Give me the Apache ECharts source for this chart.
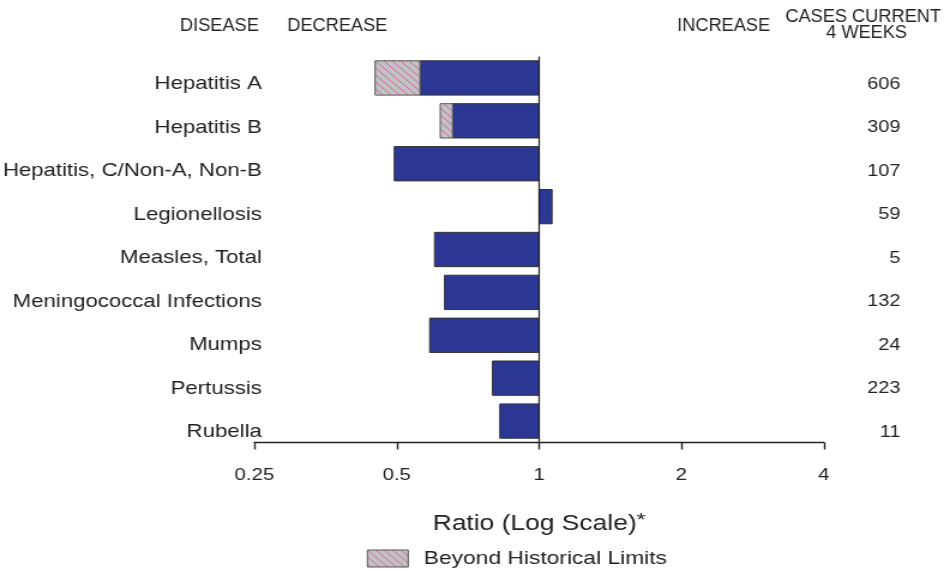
<!DOCTYPE html>
<html>
<head>
<meta charset="utf-8">
<title>Notifiable disease reports: ratio to historical values</title>
<script src="https://cdn.jsdelivr.net/npm/echarts@6/dist/echarts.min.js"></script>
<style>
  html, body { margin: 0; padding: 0; background: #fff; overflow: hidden; }
  /* The figure is drawn on a narrower canvas and widened, giving the extended type look */
  #chart { width: 792px; height: 571px; transform: scaleX(1.19949); transform-origin: 0 0; }
</style>
</head>
<body>
<div id="chart"></div>
<script>
// ---- data ----
const diseases = [
  'Hepatitis A',
  'Hepatitis B',
  'Hepatitis, C/Non-A, Non-B',
  'Legionellosis',
  'Measles, Total',
  'Meningococcal Infections',
  'Mumps',
  'Pertussis',
  'Rubella'
];
// ratio of current 4-week total to historical mean
const ratios = [0.450, 0.618, 0.494, 1.065, 0.601, 0.631, 0.587, 0.797, 0.826];
// historical limit crossed by the ratio (null when within limits)
const historicalLimits = [0.560, 0.656, null, null, null, null, null, null, null];
const casesCurrent4Weeks = [606, 309, 107, 59, 5, 132, 24, 223, 11];
const tickValues = [0.25, 0.5, 1, 2, 4];
const tickLabels = ['0.25', '0.5', '1', '2', '4'];

const BLUE = '#2c3794';
const EDGE = '#333333';
const INK = '#222222';
const FONT = '"Liberation Sans", Arial, Helvetica, sans-serif';

// diagonal hatch used for the portion beyond historical limits
function makeHatch() {
  const s = 7;
  const c = document.createElement('canvas');
  c.width = s; c.height = s;
  const g = c.getContext('2d');
  g.fillStyle = '#c2c2c2';
  g.fillRect(0, 0, s, s);
  g.strokeStyle = '#d456a6';
  g.lineWidth = 0.9;
  g.beginPath();
  g.moveTo(-1, -1); g.lineTo(s + 1, s + 1);
  g.moveTo(-1, s - 1); g.lineTo(1, s + 1);
  g.moveTo(s - 1, -1); g.lineTo(s + 1, 1);
  g.stroke();
  return { image: c, repeat: 'repeat' };
}
const hatch = makeHatch();

// bar from a value to the reference ratio of 1
const mainData = diseases.map((d, i) => [historicalLimits[i] != null ? historicalLimits[i] : ratios[i], i]);
// hatched piece from the ratio to the crossed limit
const beyondData = [];
diseases.forEach((d, i) => {
  if (historicalLimits[i] != null) beyondData.push([ratios[i], historicalLimits[i], i]);
});

function barRect(api, from, to, y) {
  const a = api.coord([from, y]);
  const b = api.coord([to, y]);
  const h = api.size([0, 1], [1, y])[1] * 0.8;
  const x0 = Math.min(a[0], b[0]);
  const x1 = Math.max(a[0], b[0]);
  return { x: x0, y: a[1] - h / 2, width: x1 - x0, height: h };
}

const chart = echarts.init(document.getElementById('chart'), null, { renderer: 'canvas' });

const headerStyle = (text) => ({ text: text, font: '18.5px ' + FONT, fill: INK, textAlign: 'center', textVerticalAlign: 'middle' });

const option = {
  animation: false,
  backgroundColor: '#ffffff',
  textStyle: { fontFamily: FONT, color: INK },
  grid: [
    { left: 212.1, right: 105.25, top: 56.5, bottom: 128.5, outerBoundsMode: 'none', containLabel: false },
    { left: 226.3, right: 49.4, top: 62.45, bottom: 117.25, outerBoundsMode: 'none', containLabel: false }
  ],
  xAxis: [
    {
      type: 'log',
      logBase: 2,
      min: 0.25,
      max: 4,
      gridIndex: 0,
      axisLine: { show: true, onZero: false, lineStyle: { color: INK, width: 1.4 } },
      axisTick: { show: true, length: 7, inside: false, lineStyle: { color: INK, width: 1.4 } },
      splitLine: { show: false },
      minorTick: { show: false },
      axisLabel: {
        fontFamily: FONT, fontSize: 17, color: INK, margin: 24,
        formatter: v => {
          const k = tickValues.findIndex(t => Math.abs(t - v) < 1e-6);
          return k >= 0 ? tickLabels[k] : '';
        }
      },
      name: 'Ratio (Log Scale){sup|*}',
      nameLocation: 'middle',
      nameGap: 69,
      nameTextStyle: {
        fontFamily: FONT, fontSize: 22, color: INK,
        rich: { sup: { fontFamily: FONT, fontSize: 19, color: INK, verticalAlign: 'top', padding: [0, 0, 6, 0] } }
      }
    },
    { type: 'value', gridIndex: 1, show: false }
  ],
  yAxis: [
    {
      type: 'category', gridIndex: 0, inverse: true, data: diseases,
      axisLine: { show: false }, axisTick: { show: false }, axisLabel: { show: false }, splitLine: { show: false }
    },
    {
      type: 'category', gridIndex: 1, inverse: true, data: diseases, position: 'left',
      axisLine: { show: false }, axisTick: { show: false }, splitLine: { show: false },
      axisLabel: { fontFamily: FONT, fontSize: 18.5, color: INK, margin: 8, align: 'right' }
    },
    {
      type: 'category', gridIndex: 1, inverse: true, data: casesCurrent4Weeks.map(String), position: 'right',
      axisLine: { show: false }, axisTick: { show: false }, splitLine: { show: false },
      axisLabel: { fontFamily: FONT, fontSize: 16.5, color: INK, margin: 8, align: 'right' }
    }
  ],
  legend: {
    show: true,
    left: 305.8,
    top: 549,
    padding: 0,
    itemWidth: 34,
    itemHeight: 17,
    selectedMode: false,
    textStyle: { fontFamily: FONT, fontSize: 19, color: INK, padding: [4, 0, 0, 8] },
    data: [{
      name: 'Beyond Historical Limits',
      icon: 'rect',
      itemStyle: { color: hatch, borderColor: '#555', borderWidth: 1 }
    }]
  },
  graphic: [
    { type: 'text', x: 182.9, y: 25.5, scaleX: 0.82, style: headerStyle('DISEASE') },
    { type: 'text', x: 281.25, y: 25.5, scaleX: 0.82, style: headerStyle('DECREASE') },
    { type: 'text', x: 603.3, y: 25.5, scaleX: 0.82, style: headerStyle('INCREASE') },
    { type: 'text', x: 719.6, y: 16.5, scaleX: 0.82, style: headerStyle('CASES CURRENT') },
    { type: 'text', x: 722.5, y: 33, scaleX: 0.82, style: headerStyle('4 WEEKS') }
  ],
  series: [
    {
      name: 'Ratio',
      type: 'custom',
      coordinateSystem: 'cartesian2d',
      xAxisIndex: 0, yAxisIndex: 0,
      encode: { x: 0, y: 1 },
      itemStyle: { color: BLUE },
      data: mainData,
      renderItem: (params, api) => ({
        type: 'rect',
        shape: barRect(api, api.value(0), 1, api.value(1)),
        style: { fill: BLUE, stroke: EDGE, lineWidth: 1 }
      }),
      markLine: {
        silent: true,
        symbol: 'none',
        label: { show: false },
        lineStyle: { color: INK, width: 1.2, type: 'solid' },
        data: [{ xAxis: 1 }]
      },
      z: 3
    },
    {
      name: 'Beyond Historical Limits',
      type: 'custom',
      coordinateSystem: 'cartesian2d',
      xAxisIndex: 0, yAxisIndex: 0,
      encode: { x: [0, 1], y: 2 },
      itemStyle: { color: hatch },
      data: beyondData,
      renderItem: (params, api) => ({
        type: 'rect',
        shape: barRect(api, api.value(0), api.value(1), api.value(2)),
        style: { fill: hatch, stroke: '#555', lineWidth: 1 }
      }),
      z: 3
    }
  ]
};

chart.setOption(option);
</script>
</body>
</html>
